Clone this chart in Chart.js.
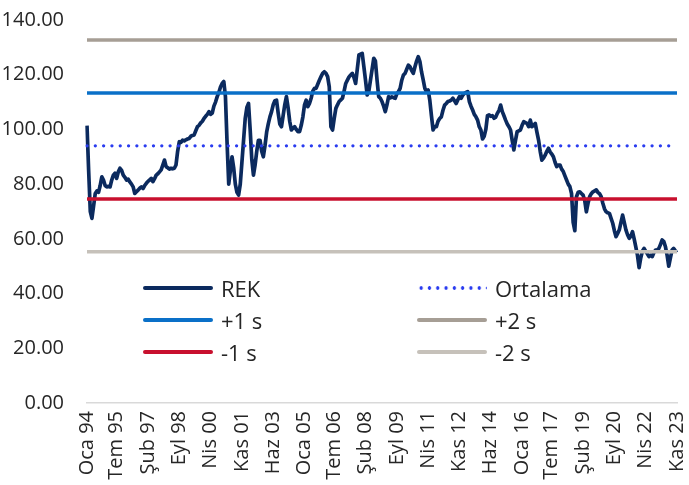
<!DOCTYPE html>
<html>
<head>
<meta charset="utf-8">
<script src="https://cdn.jsdelivr.net/npm/chart.js@4.4.1/dist/chart.umd.min.js"></script>
<style>
  html, body { margin: 0; padding: 0; background: #fff; }
  #wrap { position: relative; width: 689px; height: 485px; }
  #legend { position: absolute; left: 0; top: 0; font-family: 'Open Sans', sans-serif; font-size: 22px; color: #262626; }
  .item { position: absolute; display: flex; align-items: center; height: 30px; white-space: nowrap; }
  .sw { width: 70px; height: 4px; margin-right: 8px; border-radius: 2px; }
</style>
</head>
<body>
<div id="wrap">
  <canvas id="c" width="689" height="485"></canvas>
  <div id="legend"></div>
</div>
<script>
// month names (Turkish) used to build the monthly categories Oca 94 .. Kas 23
const monthNames = ['Oca', 'Şub', 'Mar', 'Nis', 'May', 'Haz', 'Tem', 'Ağu', 'Eyl', 'Eki', 'Kas', 'Ara'];
const categories = [];
for (let y = 1994; y <= 2023; y++) {
  monthNames.forEach((m, i) => {
    if (y === 2023 && i > 10) return;
    categories.push(m + ' ' + String(y).slice(2));
  });
}

// axis labels shown on the x axis
const tickLabels = ['Oca 94', 'Tem 95', 'Şub 97', 'Eyl 98', 'Nis 00', 'Kas 01', 'Haz 03', 'Oca 05',
  'Tem 06', 'Şub 08', 'Eyl 09', 'Nis 11', 'Kas 12', 'Haz 14', 'Oca 16', 'Tem 17', 'Şub 19',
  'Eyl 20', 'Nis 22', 'Kas 23'];

// REK, monthly
const rek = [
  101.4, 85, 70, 67.5, 72, 76.6, 77.5, 77, 79.5, 82.7, 81.5, 79.5,
  79, 79.2, 79, 81.5, 83.3, 84, 82.1, 84.5, 85.8, 85, 83.3, 82.5,
  81.5, 81.8, 80.8, 80, 79, 76.6, 77.2, 77.8, 78.5, 79, 78.4, 79.5,
  80.3, 81, 81.5, 82.1, 80.9, 82, 83.3, 83.8, 84.5, 85.2, 87, 88.8,
  86.4, 86, 85.5, 85.8, 85.6, 85.8, 87, 92, 95.5, 95.3, 96.1, 95.8,
  96.2, 96.5, 96.7, 97.5, 97.8, 98, 99.5, 101, 101.5, 102.4, 103, 104,
  104.8, 105.5, 106.5, 105.5, 106, 108.5, 110, 112, 113.5, 115.5, 116.8, 117.5,
  112, 95, 80, 85, 90, 86, 80, 77, 76, 80, 88, 96,
  104, 108, 109.5, 100, 89, 83.3, 87, 92, 96, 96, 92, 90,
  94, 99, 102, 104.6, 106.5, 109, 110.5, 110.7, 106, 102, 101, 105,
  109, 112, 108, 103, 99.8, 100.5, 101, 100, 99.2, 99.2, 101.5, 104.6,
  109, 110.7, 108.3, 109.5, 111.4, 114, 115, 115, 116.5, 118, 119.3, 120.5,
  121.1, 120.5, 119.3, 115.6, 101, 99.8, 104, 107.7, 109, 110.2, 110.8, 111.4,
  114, 116.8, 118, 119.2, 119.9, 120.5, 119, 116.8, 122, 127.2, 127.5, 127.8,
  122.9, 118, 112.6, 114, 118, 122, 126, 125, 118, 112, 111.4, 110.2,
  108.5, 106.5, 109, 112, 111.5, 111.9, 111.6, 111.4, 113, 113.8, 115, 118,
  119.9, 120.5, 122, 123.5, 122.9, 121.5, 120.5, 122.9, 125, 126.6, 124.8, 121,
  118.1, 115, 113.8, 114.4, 110.7, 105, 99.8, 101, 101, 103, 104, 104.6,
  107, 108.9, 109.5, 110.2, 110.4, 110.7, 111.4, 110.5, 109.5, 110.8, 112, 111.4,
  112.5, 113.2, 113.5, 113.8, 110.2, 108.5, 107.1, 105.5, 104.6, 103.4, 101, 99.8,
  96.5, 97.5, 100, 105, 105.3, 104.8, 105, 104.1, 104.5, 105.9, 107, 108.9,
  106.5, 105, 103.4, 102, 101, 99.8, 96, 92.5, 96, 99.2, 99.5, 99.8,
  101.5, 102.8, 102.5, 102.2, 101, 103.4, 101, 101.5, 102.2, 99, 96.1, 92,
  88.8, 89.5, 90.6, 92, 93.1, 91.8, 91, 90, 88, 86.4, 87, 87,
  85.5, 84.6, 83, 81.5, 80, 79.1, 76.6, 66, 63, 75.4, 77, 77.2,
  76.6, 76, 74, 69.9, 73, 75.4, 76.5, 77.2, 77.5, 77.9, 77, 76.5,
  75.4, 73, 71, 69.9, 69.5, 69.3, 67.5, 65.7, 63, 60.8, 62, 63.3,
  66, 68.7, 66, 63.3, 61.5, 60.2, 61, 62.6, 60, 57.1, 54, 49.5,
  53, 55.5, 56.5, 55.5, 54.5, 53.5, 54, 53.5, 55, 55.9, 56, 56.5,
  58, 59.6, 59, 57.1, 54, 50, 53, 55.9, 56.5, 55.5, 55.9
];

// reference levels (mean and +/- 1, 2 standard deviations)
const refNames = ['Ortalama', '+1 s', '+2 s', '-1 s', '-2 s'];
const refLevels = [94.0, 113.3, 132.7, 74.6, 55.3];
const refColors = ['#2a3cf0', '#0a70c8', '#a69e95', '#c8102e', '#c6c1ba'];

const yTicks = [0, 20, 40, 60, 80, 100, 120, 140];

const FONT = "'Open Sans', sans-serif";
const TXT = '#262626';

const datasets = [{
  label: 'REK',
  data: rek,
  borderColor: '#0b2a5e',
  borderWidth: 3.7,
  pointRadius: 0,
  tension: 0,
  borderJoinStyle: 'round',
  order: 10
}];
refNames.forEach((name, i) => {
  const dotted = name === 'Ortalama';
  datasets.push({
    label: name,
    data: categories.map(() => refLevels[i]),
    borderColor: refColors[i],
    borderWidth: dotted ? 3.3 : 3.5,
    borderDash: dotted ? [0.01, 8.3] : [],
    borderCapStyle: dotted ? 'round' : 'butt',
    pointRadius: 0,
    order: i + 1
  });
});

// legend as html, two columns
const htmlLegend = {
  id: 'htmlLegend',
  afterUpdate(chart) {
    const box = document.getElementById('legend');
    box.innerHTML = '';
    chart.data.datasets.forEach((ds, i) => {
      const col = i % 2, row = Math.floor(i / 2);
      const item = document.createElement('div');
      item.className = 'item';
      item.style.left = (col ? 417 : 143) + 'px';
      item.style.top = (273 + row * 32) + 'px';
      const sw = document.createElement('div');
      sw.className = 'sw';
      if (ds.borderDash && ds.borderDash.length) {
        sw.style.background = 'radial-gradient(circle, ' + ds.borderColor + ' 1.5px, transparent 2px) 0 0 / 8.3px 4px repeat-x';
      } else {
        sw.style.background = ds.borderColor;
      }
      const t = document.createElement('span');
      t.textContent = ds.label;
      item.appendChild(sw);
      item.appendChild(t);
      box.appendChild(item);
    });
  }
};

new Chart(document.getElementById('c'), {
  type: 'line',
  data: { labels: categories, datasets: datasets },
  options: {
    responsive: false,
    animation: false,
    layout: { padding: { top: 20, right: 12, left: 0, bottom: 0 } },
    plugins: { legend: { display: false }, tooltip: { enabled: false } },
    scales: {
      x: {
        offset: false,
        grid: { display: false, drawTicks: false },
        border: { display: true, color: '#d9d9d9', width: 1.5 },
        afterBuildTicks: axis => {
          axis.ticks = tickLabels.map(l => ({ value: categories.indexOf(l) }));
        },
        afterFit: s => { s.height = 82; s.paddingLeft = 0; s.paddingRight = 0; s.paddingTop = 0; s.paddingBottom = 0; },
        ticks: {
          autoSkip: false,
          minRotation: 90,
          maxRotation: 90,
          padding: 8,
          color: TXT,
          font: { family: FONT, size: 20 },
          callback: function (v) { return this.getLabelForValue(v); }
        }
      },
      y: {
        min: 0,
        max: 140,
        grid: { display: false, drawTicks: false },
        border: { display: false },
        afterBuildTicks: axis => { axis.ticks = yTicks.map(v => ({ value: v })); },
        afterFit: s => { s.width = 87; s.paddingTop = 0; s.paddingBottom = 0; },
        ticks: {
          padding: 23,
          color: TXT,
          font: { family: FONT, size: 20 },
          callback: v => v.toFixed(2)
        }
      }
    }
  },
  plugins: [htmlLegend]
});
</script>
</body>
</html>
